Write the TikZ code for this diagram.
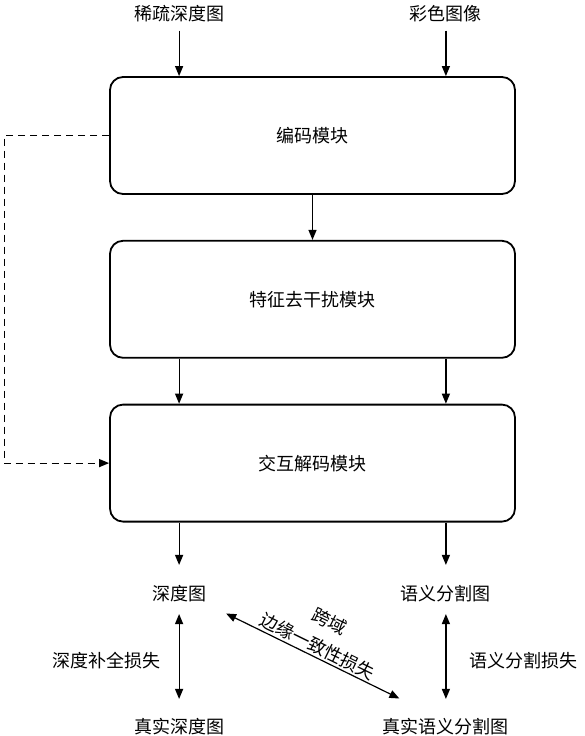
\documentclass[tikz,border=0pt]{standalone}
\usepackage{fontspec}
\setmainfont{Noto Sans CJK SC}
\usetikzlibrary{
	positioning,
	arrows.meta,
	calc
}

\tikzset{
	module/.style={draw, line width=1.8pt, rounded corners=13pt,
		minimum width=405pt, minimum height=117pt,
		font=\fontsize{18}{22}\selectfont},
	lbl/.style={font=\fontsize{18}{22}\selectfont, inner sep=2pt},
	arr/.style={-{Triangle[length=10pt,width=8pt]}, line width=1.2pt},
	darr/.style={{Triangle[length=10pt,width=8pt]}-{Triangle[length=10pt,width=8pt]}, line width=1.2pt}
}

\begin{document}
\begin{tikzpicture}[x=1pt,y=-1pt]
	\useasboundingbox (0,0) rectangle (584,736);
	
	% modules
	\node[module] (enc) at (312.5,135.5) {编码模块};
	\node[module, below=45pt of enc] (feat) {特征去干扰模块};
	\node[module, below=45pt of feat] (dec) {交互解码模块};
	
	% inputs
	\node[lbl] (sparse) at ($(enc.north west)+(70,-62)$) {稀疏深度图};
	\node[lbl] (rgb) at ($(enc.north east)+(-70,-62)$) {彩色图像};
	
	% outputs
	\node[lbl] (depth) at ($(dec.south west)+(70,71)$) {深度图};
	\node[lbl] (seg) at ($(dec.south east)+(-70,71)$) {语义分割图};
	\node[lbl] (gtdepth) at ($(depth)+(0,133)$) {真实深度图};
	\node[lbl] (gtseg) at ($(seg)+(0,133)$) {真实语义分割图};
	\node[lbl] (dloss) at ($(depth)+(-73,67)$) {深度补全损失};
	\node[lbl] (sloss) at ($(seg)+(78,67)$) {语义分割损失};
	
	% connectors
	\draw[arr, shorten <=6pt] (sparse) -- (sparse |- enc.north);
	\draw[arr, shorten <=6pt] (rgb) -- (rgb |- enc.north);
	\draw[arr] (enc) -- (feat);
	\draw[arr] (feat.south -| sparse) -- (dec.north -| sparse);
	\draw[arr] (feat.south -| rgb) -- (dec.north -| rgb);
	\draw[arr, dash pattern=on 7pt off 5pt] (enc.west) -- ++(-105,0) |- (dec.west);
	\draw[arr, shorten >=18pt] (dec.south -| depth) -- (depth);
	\draw[arr, shorten >=18pt] (dec.south -| seg) -- (seg);
	\draw[darr, shorten <=10pt, shorten >=17pt] (depth) -- (gtdepth);
	\draw[darr, shorten <=10pt, shorten >=17pt] (seg) -- (gtseg);
	
	\coordinate (xa) at ($(depth)+(47,20)$);
	\coordinate (xb) at ($(gtseg)+(-46.5,-28)$);
	\draw[darr] (xa) -- node[lbl, sloped, above, align=center,
		font=\fontsize{18}{27.7}\selectfont] (xlbl) {跨域\\边缘一致性损失} (xb);
	
\end{tikzpicture}
\end{document}
